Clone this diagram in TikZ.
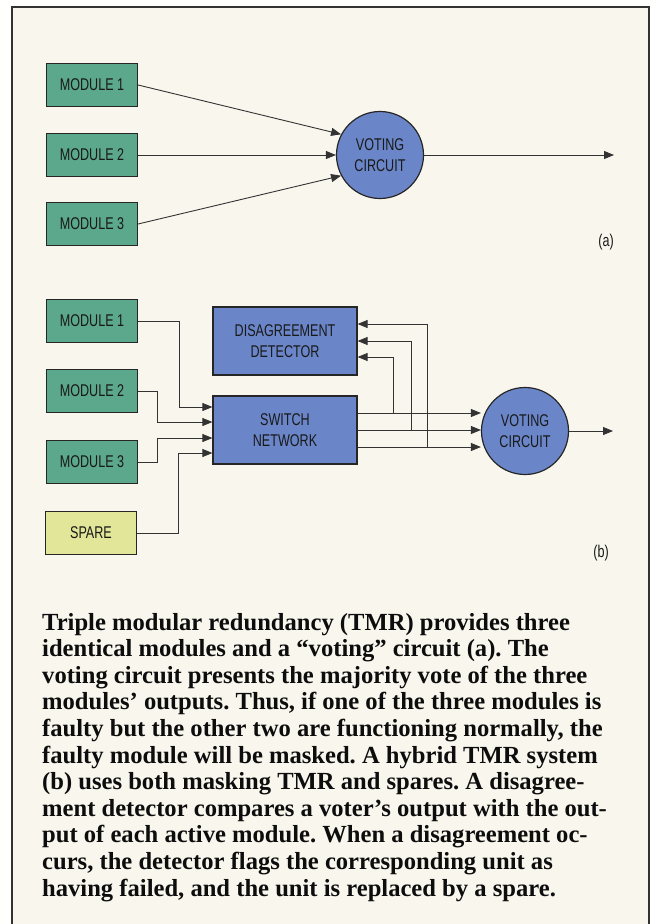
\documentclass[tikz,border=0pt]{standalone}
\usepackage{fontspec}
\setmainfont{Liberation Serif}
\newfontfamily\condsans[FakeStretch=0.74]{Liberation Sans}
\usepackage{tikz}
\usetikzlibrary{arrows.meta, calc}

\definecolor{paper}{RGB}{248,246,237}
\definecolor{modgreen}{RGB}{92,168,140}
\definecolor{sparey}{RGB}{226,230,152}
\definecolor{unitblue}{RGB}{106,134,201}

\begin{document}
\frenchspacing
\begin{tikzpicture}[x=1pt, y=-1pt, font=\condsans\fontsize{17}{21}\selectfont, align=center, text=black!90,
    module/.style={draw=black!85, line width=1.2pt, fill=modgreen, minimum width=91pt, minimum height=43pt, inner sep=0pt},
    unit/.style={draw=black!85, line width=1.2pt, fill=unitblue, minimum width=144pt, minimum height=68pt, inner sep=0pt},
    voter/.style={circle, draw=black!85, line width=1.2pt, fill=unitblue, minimum size=87pt, inner sep=0pt},
    wire/.style={draw=black!80, line width=0.9pt},
    arr/.style={wire, -{Triangle[length=10pt,width=8pt]}}]
    \useasboundingbox (0,0) rectangle (655,924);
    \fill[white!97!paper] (0,0) rectangle (655,924);
    \fill[paper] (12,7) rectangle (649,924);
    \draw[line width=1.6pt, black!80] (12,930) -- (12,7) -- (649,7) -- (649,930);

    % (a) plain TMR
    \node[module] (m1a) at (92,85) {MODULE 1};
    \node[module] (m2a) at (92,155) {MODULE 2};
    \node[module] (m3a) at (92,224) {MODULE 3};
    \node[voter] (vca) at (380,155) {VOTING\\CIRCUIT};
    \coordinate (outa) at (614,155);
    \draw[arr] (m1a.east) -- (vca.152);
    \draw[arr] (m2a.east) -- (vca.west);
    \draw[arr] (m3a.east) -- (vca.208);
    \draw[arr] (vca.east) -- (outa);
    \node (la) at (606,242) {(a)};

    % (b) hybrid TMR
    \node[module] (m1b) at (92,321) {MODULE 1};
    \node[module] (m2b) at (92,391) {MODULE 2};
    \node[module] (m3b) at (92,462) {MODULE 3};
    \node[module, fill=sparey] (spb) at (91,533) {SPARE};
    \node[unit] (dd) at (285,341) {DISAGREEMENT\\DETECTOR};
    \node[unit] (sn) at (285,430) {SWITCH\\NETWORK};
    \node[voter] (vcb) at (525,431) {VOTING\\CIRCUIT};
    \coordinate (outb) at (613,431);
    \node (lb) at (601,553) {(b)};

    \draw[arr] (m1b.east) -- ++(41,0) |- ($(sn.west)+(0,-23)$);
    \draw[arr] (m2b.east) -- ++(19,0) |- ($(sn.west)+(0,-8)$);
    \draw[arr] (m3b.east) -- ++(19,0) |- ($(sn.west)+(0,8)$);
    \draw[arr] (spb.east) -- ++(41,0) |- ($(sn.west)+(0,23)$);

    \coordinate (j1) at (393,413);
    \coordinate (j2) at (411,430);
    \coordinate (j3) at (427,447);
    \foreach \j in {j1,j2,j3}
        \draw[arr] (\j -| sn.east) -- (\j -| vcb.west);
    \draw[arr] (j1) |- ($(dd.east)+(0,16)$);
    \draw[arr] (j2) |- (dd.east);
    \draw[arr] (j3) |- ($(dd.east)+(0,-17)$);
    \draw[arr] (vcb.east) -- (outb);

    \node[anchor=base west, align=left, inner sep=0pt, text=black!95,
          font=\rmfamily\bfseries\fontsize{24.6}{26.6}\selectfont] (cap) at (42,896)
        {Triple modular redundancy (TMR) provides three\\
         identical modules and a “voting” circuit (a). The\\
         voting circuit presents the majority vote of the three\\
         modules’ outputs. Thus, if one of the three modules is\\
         faulty but the other two are functioning normally, the\\
         faulty module will be masked. A hybrid TMR system\\
         (b) uses both masking TMR and spares. A disagree-\\
         ment detector compares a voter’s output with the out-\\
         put of each active module. When a disagreement oc-\\
         curs, the detector flags the corresponding unit as\\
         having failed, and the unit is replaced by a spare.};
\end{tikzpicture}
\end{document}
